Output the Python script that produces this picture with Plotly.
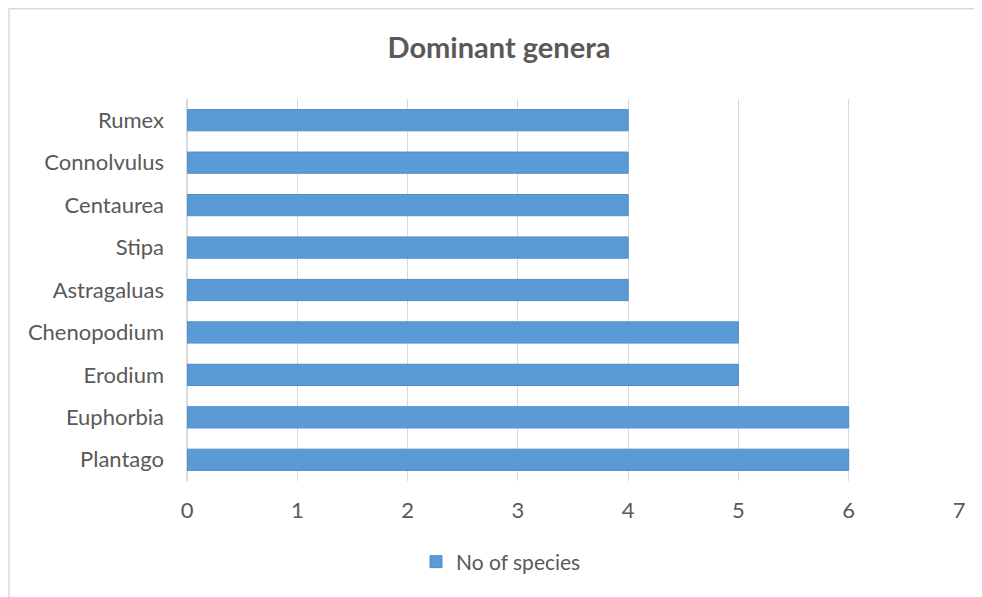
import plotly.graph_objects as go

genera = ["Plantago", "Euphorbia", "Erodium", "Chenopodium", "Astragaluas",
          "Stipa", "Centaurea", "Connolvulus", "Rumex"]
species = [6, 6, 5, 5, 4, 4, 4, 4, 4]
x_ticks = [0, 1, 2, 3, 4, 5, 6, 7]

FONT = "Lato"
GREY = "#595959"

# plot area in figure pixels (page adds an 8px body margin)
L, R, T, B = 179, 31, 91, 124
PH = 597 - T - B
PW = 982 - L - R

fig = go.Figure()
fig.add_trace(go.Bar(
    y=genera, x=species, orientation="h", name="No of species",
    marker=dict(color="#5b9bd5", line=dict(color="#4f8ccb", width=1)),
))

fig.update_layout(
    width=982, height=597,
    margin=dict(l=L, r=R, t=T, b=B),
    paper_bgcolor="white", plot_bgcolor="white",
    font=dict(family=FONT, color=GREY, size=22),
    title=dict(text="<b>Dominant genera</b>", x=491 / 982, xanchor="center",
               y=1 - 40 / 597, yanchor="middle",
               font=dict(size=29, color=GREY, family=FONT)),
    bargap=0.5,
    showlegend=True,
    legend=dict(orientation="h", x=(493 - L) / PW, xanchor="center",
                y=(473 - 554) / PH, yanchor="middle",
                font=dict(size=21, color=GREY)),
    xaxis=dict(range=[0, 7], tickvals=x_ticks, showgrid=True, gridcolor="#d9d9d9",
               gridwidth=1, zeroline=True, zerolinecolor="#d9d9d9", showline=False,
               ticks="", ticklabelstandoff=14, tickfont=dict(size=22, color=GREY)),
    yaxis=dict(categoryorder="array", categoryarray=genera, showgrid=False,
               showline=False, ticks="", ticklabelstandoff=22,
               tickfont=dict(size=22, color=GREY)),
    shapes=[dict(type="rect", xref="paper", yref="paper",
                 x0=(1 - L) / PW, x1=(1000 - L) / PW,
                 y0=(473 - 620) / PH, y1=(473 - 0.8) / PH,
                 line=dict(color="#d9d9d9", width=1.5), layer="below")],
)

fig.write_html("out.html")
